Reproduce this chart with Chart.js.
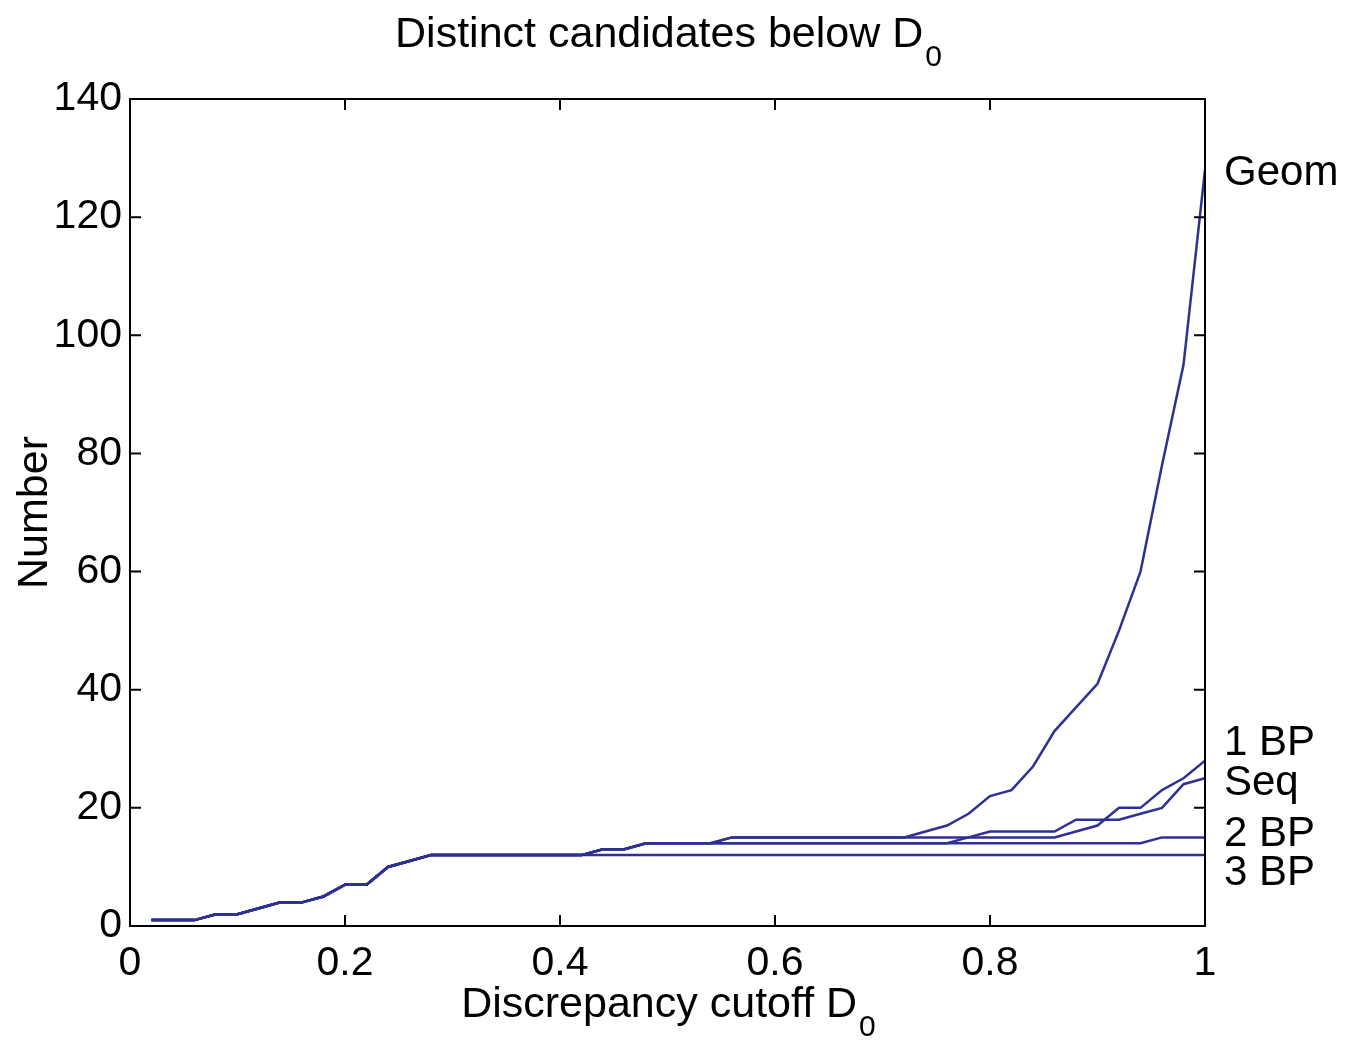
<!DOCTYPE html>
<html>
<head>
<meta charset="utf-8">
<script src="https://cdn.jsdelivr.net/npm/chart.js@4/dist/chart.umd.min.js"></script>
<style>
html, body { margin: 0; background: #fff; }
#wrap { width: 1359px; height: 1040px; }
</style>
</head>
<body>
<div id="wrap"><canvas id="chart" width="1359" height="1040"></canvas></div>
<script>
// valores, passo 0.02
var cutoff = [0.02,0.04,0.06,0.08,0.10,0.12,0.14,0.16,0.18,0.20,
              0.22,0.24,0.26,0.28,0.30,0.32,0.34,0.36,0.38,0.40,
              0.42,0.44,0.46,0.48,0.50,0.52,0.54,0.56,0.58,0.60,
              0.62,0.64,0.66,0.68,0.70,0.72,0.74,0.76,0.78,0.80,
              0.82,0.84,0.86,0.88,0.90,0.92,0.94,0.96,0.98,1.00];

var geom = [1,1,1,2,2,3,4,4,5,7, 7,10,11,12,12,12,12,12,12,12,
            12,13,13,14,14,14,14,15,15,15, 15,15,15,15,15,15,16,17,19,22,
            23,27,33,37,41,50,60,78,95,128];
var bp1  = [1,1,1,2,2,3,4,4,5,7, 7,10,11,12,12,12,12,12,12,12,
            12,13,13,14,14,14,14,15,15,15, 15,15,15,15,15,15,15,15,15,15,
            15,15,15,16,17,20,20,23,25,28];
var seq  = [1,1,1,2,2,3,4,4,5,7, 7,10,11,12,12,12,12,12,12,12,
            12,13,13,14,14,14,14,14,14,14, 14,14,14,14,14,14,14,14,15,16,
            16,16,16,18,18,18,19,20,24,25];
var bp2  = [1,1,1,2,2,3,4,4,5,7, 7,10,11,12,12,12,12,12,12,12,
            12,13,13,14,14,14,14,14,14,14, 14,14,14,14,14,14,14,14,14,14,
            14,14,14,14,14,14,14,15,15,15];
var bp3  = [1,1,1,2,2,3,4,4,5,7, 7,10,11,12,12,12,12,12,12,12,
            12,12,12,12,12,12,12,12,12,12, 12,12,12,12,12,12,12,12,12,12,
            12,12,12,12,12,12,12,12,12,12];

var seriesNames = ['Geom', '1 BP', 'Seq', '2 BP', '3 BP'];
var xTicks = [0, 0.2, 0.4, 0.6, 0.8, 1];
var yTicks = [0, 20, 40, 60, 80, 100, 120, 140];

var cor = '#2e3192';
var fonte = '"Liberation Sans", Arial, Helvetica, sans-serif';

function pts(arr) {
    return cutoff.map(function (c, i) { return { x: c, y: arr[i] }; });
}

// texto com subscrito, centrado em cx
function textoSub(ctx, main, sub, cx, y, size, subSize) {
    ctx.font = size + 'px ' + fonte;
    var w1 = ctx.measureText(main).width;
    ctx.font = subSize + 'px ' + fonte;
    var w2 = ctx.measureText(sub).width;
    var x0 = cx - (w1 + w2) / 2;
    ctx.textAlign = 'left';
    ctx.textBaseline = 'alphabetic';
    ctx.font = size + 'px ' + fonte;
    ctx.fillText(main, x0, y);
    ctx.font = subSize + 'px ' + fonte;
    ctx.fillText(sub, x0 + w1 + 2, y + size * 0.45);
}

var moldura = {
    id: 'moldura',
    afterDraw: function (chart) {
        var c = chart.ctx, a = chart.chartArea;
        var xs = chart.scales.x, ys = chart.scales.y;
        c.save();
        c.strokeStyle = '#000';
        c.lineWidth = 2;
        c.strokeRect(a.left, a.top, a.right - a.left, a.bottom - a.top);
        c.beginPath();
        xTicks.forEach(function (v) {
            var p = xs.getPixelForValue(v);
            c.moveTo(p, a.bottom); c.lineTo(p, a.bottom - 11);
            c.moveTo(p, a.top); c.lineTo(p, a.top + 11);
        });
        yTicks.forEach(function (v) {
            var p = ys.getPixelForValue(v);
            c.moveTo(a.left, p); c.lineTo(a.left + 11, p);
            c.moveTo(a.right, p); c.lineTo(a.right - 11, p);
        });
        c.stroke();

        c.fillStyle = '#000';
        textoSub(c, 'Distinct candidates below D', '0', (a.left + a.right) / 2, 47, 43, 30);
        textoSub(c, 'Discrepancy cutoff D', '0', (a.left + a.right) / 2, 1017, 43, 30);

        c.save();
        c.translate(47, (a.top + a.bottom) / 2);
        c.rotate(-Math.PI / 2);
        c.font = '43px ' + fonte;
        c.textAlign = 'center';
        c.textBaseline = 'alphabetic';
        c.fillText('Number', 0, 0);
        c.restore();

        // rotulos das curvas, na direita (centro da letra em y)
        var labelAt = [128, 31.5, 24.7, 16.1, 9.5];
        c.font = '42px ' + fonte;
        c.textAlign = 'left';
        c.textBaseline = 'alphabetic';
        seriesNames.forEach(function (n, i) {
            c.fillText(n, a.right + 19, ys.getPixelForValue(labelAt[i]) + 15);
        });
        c.restore();
    }
};

var ctx = document.getElementById('chart').getContext('2d');
var myChart = new Chart(ctx, {
    type: 'line',
    data: {
        datasets: [geom, bp1, seq, bp2, bp3].map(function (arr, i) {
            return {
                label: seriesNames[i],
                data: pts(arr),
                borderColor: cor,
                backgroundColor: cor,
                borderWidth: 2.5,
                pointRadius: 0,
                tension: 0,
                fill: false
            };
        })
    },
    options: {
        responsive: false,
        animation: false,
        layout: { padding: { left: 0, top: 99, right: 154, bottom: 0 } },
        scales: {
            x: {
                type: 'linear', min: 0, max: 1,
                grid: { display: false },
                border: { display: false },
                afterBuildTicks: function (s) { s.ticks = xTicks.map(function (v) { return { value: v }; }); },
                afterFit: function (s) { s.height = 114; },
                ticks: {
                    color: '#000', padding: 5, maxRotation: 0,
                    font: { family: fonte, size: 41 },
                    callback: function (v) { return String(v); }
                }
            },
            y: {
                min: 0, max: 140,
                grid: { display: false },
                border: { display: false },
                afterBuildTicks: function (s) { s.ticks = yTicks.map(function (v) { return { value: v }; }); },
                afterFit: function (s) { s.width = 130; },
                ticks: {
                    color: '#000', padding: 0,
                    font: { family: fonte, size: 41 }
                }
            }
        },
        plugins: {
            legend: { display: false },
            tooltip: { enabled: false }
        }
    },
    plugins: [moldura]
});
</script>
</body>
</html>
